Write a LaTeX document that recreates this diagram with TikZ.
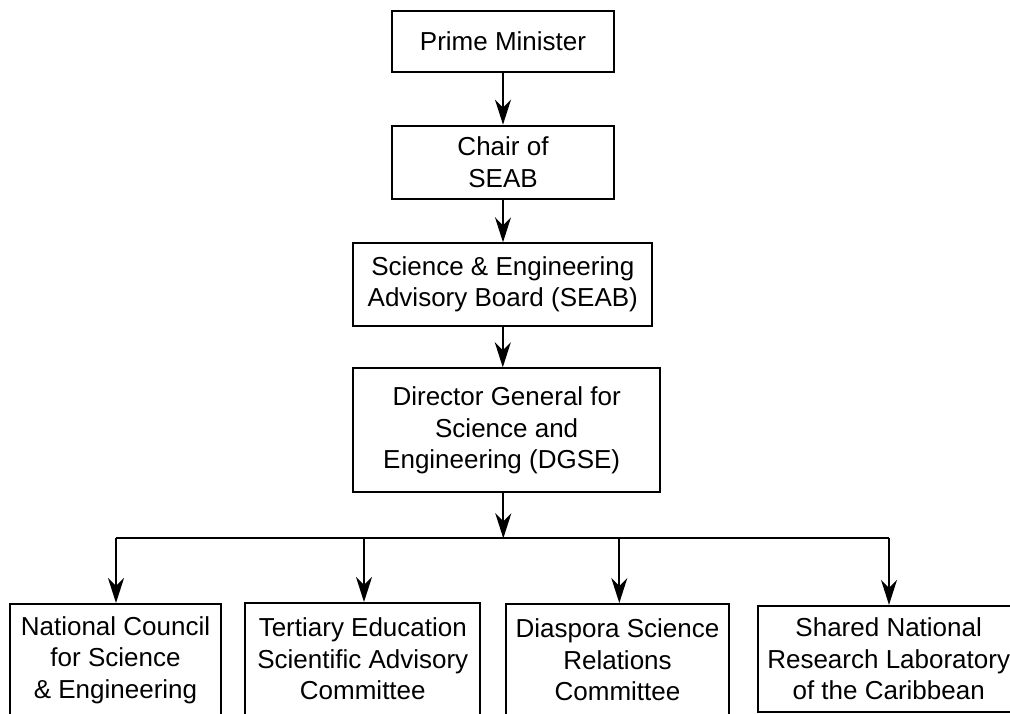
\documentclass[tikz,border=0pt]{standalone}
\usepackage{fontspec}
\setmainfont{Liberation Sans}
\usetikzlibrary{arrows.meta}
\tikzset{
  orgbox/.style={draw=black, line width=2pt, align=center, inner sep=0pt,
    font=\fontsize{26}{31.5}\selectfont},
  conn/.style={line width=2pt, draw=black},
  arr/.style={conn, -{Stealth[length=25pt, width=16pt, inset=8pt]}}
}
\begin{document}
\begin{tikzpicture}[x=1pt, y=-1pt]
\useasboundingbox (0,0) rectangle (1010,713);
\fill[white] (0,0) rectangle (1010,713);
\clip (0,0) rectangle (1010,713);

\node[orgbox, minimum width=222pt, minimum height=61.6pt] (pm) at (503,41.5) {Prime Minister};
\node[orgbox, minimum width=222pt, minimum height=73.3pt] (chair) at (503,162.3) {Chair of\\SEAB};
\node[orgbox, minimum width=299pt, minimum height=82.4pt] (seab) at (502.8,284.5) {Science \& Engineering\\Advisory Board (SEAB)};
\node[orgbox, minimum width=306.7pt, minimum height=124pt] (dg) at (506.7,430.3) {Director General for\\Science and\\Engineering (DGSE)\hspace*{10pt}};

\node[orgbox, minimum width=211pt, minimum height=112pt] (n1) at (115.5,660) {National Council\\for Science\\\&\ Engineering};
\node[orgbox, minimum width=235pt, minimum height=112pt] (n2) at (362.8,659) {Tertiary Education\\Scientific Advisory\\Committee};
\node[orgbox, minimum width=223.6pt, minimum height=112pt] (n3) at (617.5,660) {Diaspora Science\\Relations\\Committee};
\node[orgbox, minimum width=260.7pt, minimum height=106.3pt] (n4) at (888.7,659) {Shared National\\Research Laboratory\\of the Caribbean};

\coordinate (bus) at (503.3,538.3);
\coordinate (b1) at (116,538.3);
\coordinate (b2) at (364,538.3);
\coordinate (b3) at (619.3,538.3);
\coordinate (b4) at (889,538.3);

\draw[arr] (pm.south) -- (chair.north);
\draw[arr] (chair.south) -- (chair.south |- seab.north);
\draw[arr] (seab.south) -- (seab.south |- dg.north);
\draw[arr] (dg.south -| bus) -- (bus);
\draw[conn] (b1) -- (b4);
\draw[arr] (b1) -- (b1 |- n1.north);
\draw[arr] (b2) -- (b2 |- n2.north);
\draw[arr] (b3) -- (b3 |- n3.north);
\draw[arr] (b4) -- (b4 |- n4.north);
\end{tikzpicture}
\end{document}
